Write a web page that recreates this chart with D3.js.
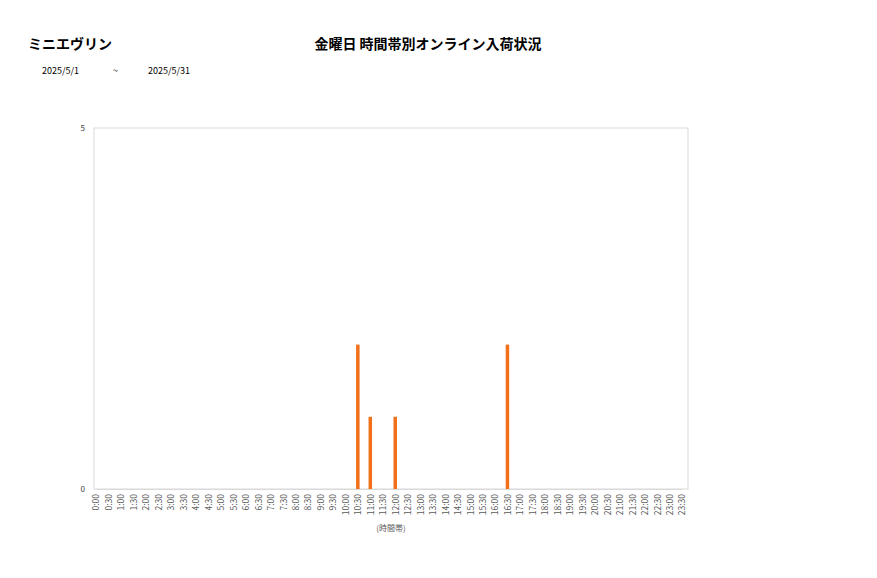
<!DOCTYPE html>
<html>
<head>
<meta charset="utf-8">
<script src="https://cdn.jsdelivr.net/npm/d3@7"></script>
<style>
  body { margin: 0; background: #fff; }
  svg text { font-family: "Noto Sans CJK JP", "Noto Sans", sans-serif; }
</style>
</head>
<body>
<svg id="chart" width="877" height="578"></svg>
<script>
// data
const chartTitle = "金曜日 時間帯別オンライン入荷状況";
const storeName = "ミニエヴリン";
const dateFrom = "2025/5/1";
const dateTo = "2025/5/31";
const timeSlots = [];
for (let h = 0; h < 24; h++) { timeSlots.push(h + ":00", h + ":30"); }
const arrivals = {"10:30": 2, "11:00": 1, "12:00": 1, "16:30": 2};
const yTicks = [0, 5];

const svg = d3.select("#chart");
const margin = {left: 94, top: 128, right: 189, bottom: 89};
const width = 877 - margin.left - margin.right;
const height = 578 - margin.top - margin.bottom;

svg.append("rect").attr("width", 877).attr("height", 578).attr("fill", "#fff");

// header texts
svg.append("text").attr("x", 28).attr("y", 49)
    .attr("font-size", 14).attr("font-weight", "bold").attr("fill", "#000")
    .text(storeName);
svg.append("text").attr("x", 428).attr("y", 49).attr("text-anchor", "middle")
    .attr("font-size", 14).attr("font-weight", "bold").attr("fill", "#000")
    .text(chartTitle);
svg.append("text").attr("x", 42).attr("y", 74).attr("font-size", 9).text(dateFrom);
svg.append("text").attr("x", 113).attr("y", 74).attr("font-size", 9).text("~");
svg.append("text").attr("x", 148).attr("y", 74).attr("font-size", 9).text(dateTo);

const g = svg.append("g").attr("transform", `translate(${margin.left},${margin.top})`);

const x = d3.scalePoint().domain(timeSlots).range([2, width - 6]);
const y = d3.scaleLinear().domain([0, 5]).range([height, 0]);

// frame
g.append("rect").attr("width", width).attr("height", height)
    .attr("fill", "none").attr("stroke", "#d9d9d9").attr("stroke-width", 1);

// bars
const barW = 3.5;
g.selectAll("rect.bar")
    .data(timeSlots.filter(t => arrivals[t]))
    .join("rect")
    .attr("class", "bar")
    .attr("x", d => x(d) - barW / 2)
    .attr("y", d => y(arrivals[d]))
    .attr("width", barW)
    .attr("height", d => height - y(arrivals[d]))
    .attr("fill", "#f0711a");

// y axis
const yAxis = g.append("g")
    .call(d3.axisLeft(y).tickValues(yTicks).tickFormat(d3.format("d")).tickSize(0).tickPadding(9));
yAxis.select(".domain").remove();
yAxis.selectAll("text").attr("font-size", 8).attr("fill", "#404040");

// x axis
const xAxis = g.append("g").attr("transform", `translate(0,${height})`)
    .call(d3.axisBottom(x).tickSize(0));
xAxis.select(".domain").attr("stroke", "#d9d9d9");
xAxis.selectAll("text")
    .attr("font-size", 8.5).attr("fill", "#595959")
    .attr("text-anchor", "end")
    .attr("transform", "rotate(-90)")
    .attr("x", -5).attr("y", 0).attr("dy", "0.35em");

svg.append("text").attr("x", 391).attr("y", 531).attr("text-anchor", "middle")
    .attr("font-size", 8).attr("fill", "#595959").text("(時間帯)");
</script>
</body>
</html>
